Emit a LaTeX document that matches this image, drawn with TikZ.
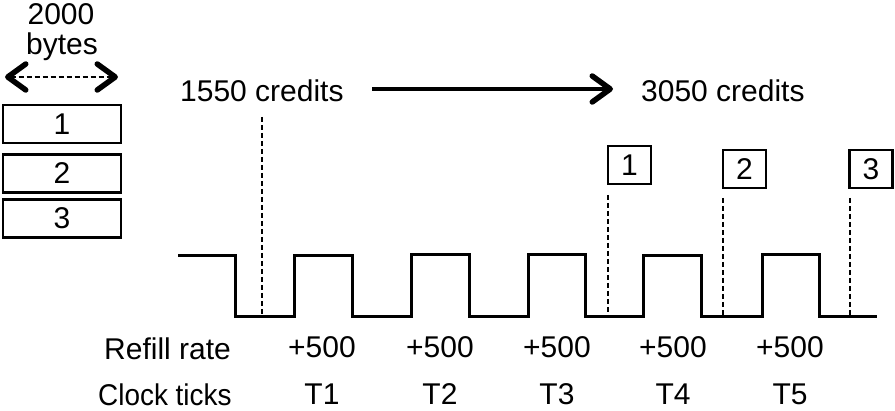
\documentclass[tikz,border=0pt]{standalone}
\usepackage{fontspec}
\setmainfont{Liberation Sans}
\usetikzlibrary{arrows.meta}
\begin{document}
\begin{tikzpicture}[x=1pt,y=-1pt,
  txt/.style={inner sep=0pt,font=\fontsize{30}{36}\selectfont},
  bigbox/.style={draw,line width=2.6pt,minimum width=118pt,minimum height=38pt,inner sep=0pt,font=\fontsize{30}{36}\selectfont},
  smallbox/.style={draw,line width=2.6pt,minimum width=43pt,minimum height=38pt,inner sep=0pt,font=\fontsize{30}{36}\selectfont},
  wave/.style={line width=3pt,line join=miter},
  guide/.style={line width=2.2pt,dash pattern=on 5pt off 3pt},
  chevtip/.tip={Straight Barb[length=18pt,width=26pt,line width=5.5pt,round]},
  chev/.style={line width=3.2pt,-chevtip},
  dchev/.style={line width=2.2pt,dash pattern=on 5pt off 3pt,chevtip-chevtip}]
\useasboundingbox (0,0) rectangle (895,411);

% size legend
\node[txt,anchor=base] (t2000) at (61,25) {2000};
\node[txt,anchor=base] (tbytes) at (62,55) {bytes};
\coordinate (la) at (5,77);
\coordinate (lb) at (118,77);
\draw[dchev] (la) -- (lb);

\node[bigbox] (b1) at (62,124) {1};
\node[bigbox] (b2) at (62,173.5) {2};
\node[bigbox] (b3) at (62,218.5) {3};

% credits
\node[txt,anchor=base west] (c1) at (180,102) {1550 credits};
\node[txt,anchor=base west] (c2) at (641,102) {3050 credits};
\coordinate (ca) at (372,89);
\coordinate (cb) at (613,89);
\draw[chev] (ca) -- (cb);

% square wave
\draw[wave] (178,256) -- (235,256) -- (235,317) -- (294,317) -- (294,256)
  -- (352,256) -- (352,317) -- (411,317) -- (411,255) -- (469,255) -- (469,317)
  -- (528,317) -- (528,255) -- (585,255) -- (585,317) -- (643,317) -- (643,256)
  -- (701,256) -- (701,317) -- (762,317) -- (762,255) -- (819,255) -- (819,317)
  -- (877,317);

% packet markers
\node[smallbox] (s1) at (629.5,165) {1};
\node[smallbox] (s2) at (744.5,169) {2};
\node[smallbox] (s3) at (871,169) {3};

\coordinate (d0a) at (262,117); \coordinate (d0b) at (262,317);
\coordinate (d1a) at (608,195); \coordinate (d1b) at (608,317);
\coordinate (d2a) at (723,198); \coordinate (d2b) at (723,317);
\coordinate (d3a) at (850,198); \coordinate (d3b) at (850,317);
\draw[guide] (d0a) -- (d0b);
\draw[guide] (d1a) -- (d1b);
\draw[guide] (d2a) -- (d2b);
\draw[guide] (d3a) -- (d3b);

% bottom rows
\node[txt,anchor=base west] (rr) at (104,360) {Refill rate};
\node[txt,anchor=base west] (ck) at (98,406) {\scalebox{0.93}[1]{Clock ticks}};
\foreach \x/\t in {322/1,440/2,557/3,673/4,790/5}{
  \node[txt,anchor=base] (p\t) at (\x,358) {+500};
  \node[txt,anchor=base] (k\t) at (\x,405) {T\t};
}
\end{tikzpicture}
\end{document}
